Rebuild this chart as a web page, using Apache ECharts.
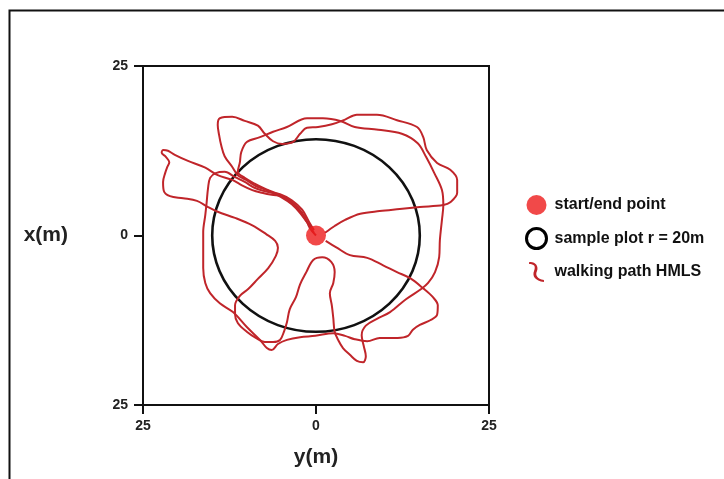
<!DOCTYPE html>
<html>
<head>
<meta charset="utf-8">
<script src="https://cdn.jsdelivr.net/npm/echarts@6/dist/echarts.min.js"></script>
<style>
html,body{margin:0;padding:0;background:#fff;}
#chart{width:724px;height:479px;}
</style>
</head>
<body>
<div id="chart"></div>
<script>
// ---- data ----
var axisTicks = [-25, 0, 25];
var seriesNames = ['start/end point', 'sample plot r = 20m', 'walking path HMLS'];
var startPoint = [[0, 0]];
var plotCircle = [[0, 0, 15, 14.2]]; // centre x, centre y, radius x, radius y (as drawn)

var walkNW = [
[0,0],[-0.9,1.1],[-1.6,2.7],[-2.6,4.1],[-3.8,5.2],[-4.9,5.8],[-6.4,6.0],[-7.8,6.3],[-9.2,6.7],[-10.7,7.4],
[-12.1,8.2],[-14.2,8.9],[-16.0,10.0],[-18.5,11.0],[-20.4,11.9],[-21.4,12.5],[-22.1,12.6],[-22.3,12.2],[-21.7,11.6],[-21.2,10.8],
[-21.5,10.1],[-21.8,9.2],[-22.1,7.9],[-22.0,6.6],[-21.1,5.8],[-19.2,5.5],[-17.2,5.1],[-15.6,4.2],[-14.2,3.5],[-11.7,2.6],
[-9.2,1.5],[-7.2,0.2],[-5.9,-0.8],[-5.5,-1.8],[-5.8,-3.0],[-6.9,-4.8],[-8.4,-6.4],[-9.8,-7.9],[-11.0,-8.9],[-11.7,-10.3],
[-11.7,-11.6],[-11.3,-12.9],[-10.0,-14.2],[-8.7,-15.1],[-7.4,-15.7],[-6.2,-15.7],[-5.2,-15.4],[-4.6,-14.1],[-4.2,-12.8],[-3.8,-10.9],
[-2.9,-9.1],[-2.3,-7.2],[-1.4,-5.4],[-0.4,-3.6],[0.9,-3.2],[2.2,-3.9],[2.7,-5.4],[2.5,-7.0],[2.0,-8.5],[2.3,-10.4],
[2.5,-12.2],[2.7,-14.2],[3.2,-15.4],[3.9,-16.6],[4.9,-17.6],[5.9,-18.5],[6.8,-18.7],[7.2,-17.8],[6.9,-16.3],[6.6,-14.7],
[7.2,-13.3],[8.8,-12.3],[10.7,-11.3],[13.0,-9.4],[15.2,-7.9],[16.2,-7.0],[17.2,-5.4],[17.8,-3.2],[17.9,-0.7],[18.2,2.3],
[18.4,4.5],[18.2,6.7],[17.1,9.2],[15.9,11.6],[14.7,13.6],[12.4,15.0],[9.0,15.6],[5.6,16.0],[3.5,16.9],[1.0,17.3],
[-1.3,17.3],[-4.2,16.0],[-6.2,15.3],[-8.1,14.5],[-10.0,13.8],[-10.8,12.3],[-11.0,10.8],[-11.3,9.4],[-10.3,8.5],[-8.8,7.6],
[-7.4,6.9],[-5.5,6.1],[-3.6,4.8],[-2.3,3.5],[-1.3,2.0],[-0.4,0.8]
];

var walkNE = [
[1.3,0.4],[2.7,1.4],[4.2,2.3],[6.4,3.2],[9.2,3.6],[12.1,3.9],[15.0,4.2],[18.4,4.5],[19.4,4.9],[20.4,6.3],
[20.4,8.2],[19.4,9.7],[17.5,10.7],[16.0,12.6],[15.5,14.5],[14.6,16.0],[11.7,17.0],[8.8,17.8],[5.9,17.8],[4.2,17.1],
[2.3,16.4],[0.3,16.0],[-1.3,15.9],[-2.3,15.0],[-3.3,13.8],[-4.9,13.5],[-6.2,13.9],[-7.4,15.0],[-8.4,16.2],[-10.3,16.9],
[-12.1,17.5],[-13.9,17.3],[-14.2,16.3],[-14.0,14.8],[-13.7,13.3],[-13.2,11.7],[-12.1,10.1],[-11.3,8.9],[-10.1,8.2],[-8.7,7.3],
[-6.9,6.6],[-5.1,5.7],[-3.5,4.6],[-2.2,3.2],[-1.0,1.5],[-0.3,0.4]
];

var walkS = [
[1.4,-0.8],[3.0,-1.8],[4.9,-2.9],[7.4,-3.3],[9.7,-4.4],[11.7,-5.4],[13.6,-6.3],[15.5,-7.8],[16.9,-9.1],[17.6,-10.3],
[17.5,-11.7],[16.5,-12.5],[15.0,-13.2],[14.0,-13.9],[13.3,-14.8],[11.8,-15.1],[9.2,-15.1],[7.4,-15.6],[5.6,-15.3],[4.2,-14.8],
[2.5,-14.4],[-0.1,-14.8],[-2.3,-15.0],[-4.2,-15.4],[-5.5,-16.0],[-6.4,-16.9],[-7.1,-16.6],[-8.1,-15.4],[-10.0,-13.5],[-12.0,-11.3],
[-13.9,-10.0],[-15.3,-8.5],[-16.0,-7.0],[-16.3,-4.8],[-16.3,-2.1],[-16.3,0.5],[-16.0,3.0],[-15.8,4.9],[-15.6,7.0],[-15.3,8.5],
[-14.5,9.2],[-13.2,9.4],[-11.7,8.6],[-10.3,7.9],[-8.8,7.0],[-6.9,6.4],[-5.2,6.1],[-3.5,5.2],[-2.0,3.8],[-1.0,2.0],[-0.3,0.8]
];

// ---- chart ----
var pathColor = '#c0252a';
var fontFam = 'Liberation Sans, Arial, sans-serif';
var chart = echarts.init(document.getElementById('chart'), null, {renderer: 'canvas'});

function pathSeries(data) {
  return {
    name: seriesNames[2], type: 'line', data: data, smooth: 0.35,
    symbol: 'none', lineStyle: {color: pathColor, width: 2}, itemStyle: {color: pathColor},
    z: 3, silent: true
  };
}

function absLabel(v) { return String(Math.abs(v)); }

chart.setOption({
  animation: false,
  backgroundColor: '#fff',
  graphic: [{
    type: 'rect', left: 7, top: 8, shape: {width: 760, height: 520},
    style: {fill: 'none', stroke: '#111', lineWidth: 2}, silent: true
  }],
  grid: {left: 143, right: 235, top: 66, bottom: 74, show: true, borderColor: '#111', borderWidth: 2, backgroundColor: 'transparent'},
  legend: {
    orient: 'vertical', left: 525, top: 195, padding: 0, itemGap: 12, itemWidth: 20, itemHeight: 20,
    selectedMode: false,
    textStyle: {color: '#111', fontWeight: 'bold', fontSize: 16, fontFamily: fontFam, padding: [0, 0, 0, 3]},
    data: [
      {name: seriesNames[0], icon: 'circle', itemStyle: {color: '#ee1b1b'}},
      {name: seriesNames[1], icon: 'circle', itemStyle: {color: '#fff', borderColor: '#000', borderWidth: 3}},
      {name: seriesNames[2], icon: 'path://M1,1 C7,0 11,5 9,10 C7,14 9,18 16,19 L16,21 C7,20 4,15 6,10 C8,5 6,3 1,3 Z', itemStyle: {color: pathColor}}
    ]
  },
  xAxis: {
    type: 'value', min: axisTicks[0], max: axisTicks[2], interval: 25,
    name: 'y(m)', nameLocation: 'middle', nameGap: 42,
    nameTextStyle: {color: '#222', fontWeight: 'bold', fontSize: 21, fontFamily: fontFam},
    axisLine: {show: true, onZero: false, lineStyle: {color: '#111', width: 2}},
    axisTick: {show: true, inside: false, length: 9, lineStyle: {color: '#111', width: 2}},
    axisLabel: {margin: 14, formatter: absLabel, color: '#222', fontWeight: 'bold', fontSize: 14, fontFamily: fontFam},
    splitLine: {show: false}
  },
  yAxis: {
    type: 'value', min: axisTicks[0], max: axisTicks[2], interval: 25,
    name: 'x(m)', nameLocation: 'middle', nameGap: 75, nameRotate: 0,
    nameTextStyle: {color: '#222', fontWeight: 'bold', fontSize: 21, fontFamily: fontFam, padding: [0, 0, 10, 0]},
    axisLine: {show: true, onZero: false, lineStyle: {color: '#111', width: 2}},
    axisTick: {show: true, inside: false, length: 9, lineStyle: {color: '#111', width: 2}},
    axisLabel: {margin: 15, formatter: absLabel, color: '#222', fontWeight: 'bold', fontSize: 14, fontFamily: fontFam},
    splitLine: {show: false}
  },
  series: [
    {
      name: seriesNames[1], type: 'custom', data: plotCircle, z: 2, silent: true,
      itemStyle: {color: '#000'},
      renderItem: function (params, api) {
        var c = api.coord([api.value(0), api.value(1)]);
        var s = api.size([api.value(2), api.value(3)]);
        return {
          type: 'circle',
          shape: {cx: c[0], cy: c[1], r: s[0]},
          scaleY: s[1] / s[0], originX: c[0], originY: c[1],
          style: {fill: 'none', stroke: '#111', lineWidth: 2.6, strokeNoScale: true}
        };
      }
    },
    pathSeries(walkNW),
    pathSeries(walkNE),
    pathSeries(walkS),
    {
      name: seriesNames[0], type: 'scatter', data: startPoint, symbol: 'circle', symbolSize: 20,
      itemStyle: {color: '#ee1b1b'}, z: 5, silent: true
    }
  ]
});
</script>
</body>
</html>
